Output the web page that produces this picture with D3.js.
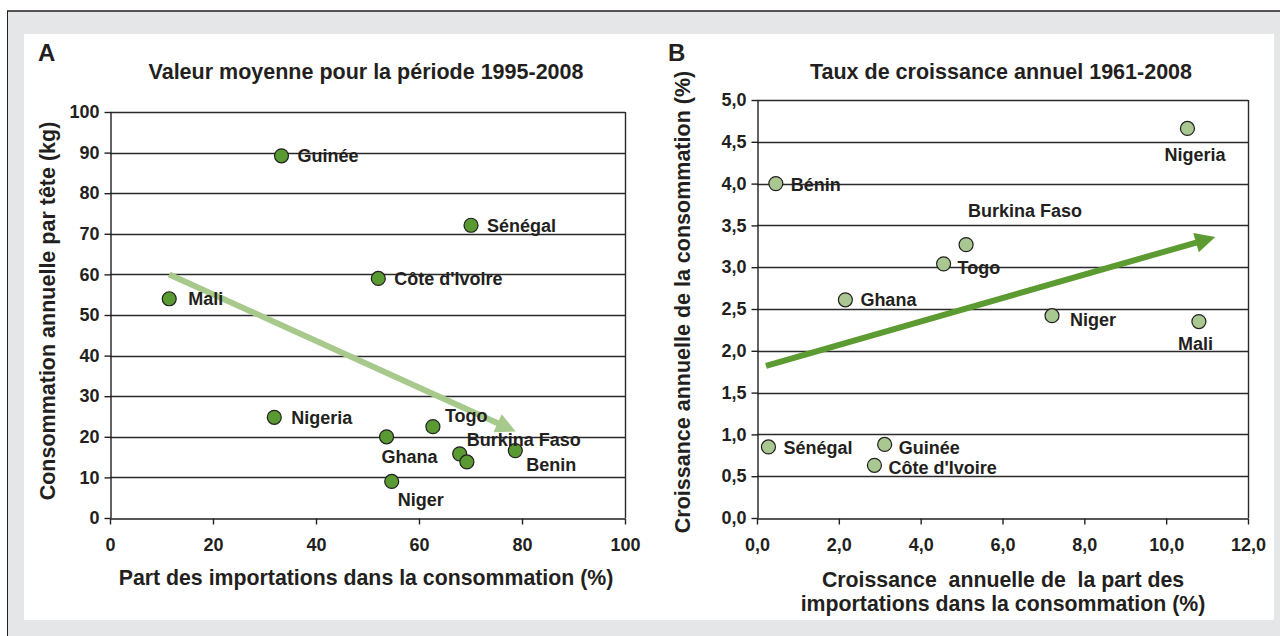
<!DOCTYPE html>
<meta charset="utf-8">
<style>
body { margin: 0; background: #fff; }
svg { display: block; font-family: "Liberation Sans", Arial, sans-serif; font-weight: bold; fill: #231f20; }
svg text { white-space: pre; }
.grid line { stroke: #2a2a2a; stroke-width: 1.4px; }
.axis path, .axis line { stroke: #231f20; stroke-width: 1.4px; }
.axis text { font-size: 18px; font-weight: bold; fill: #231f20; }
.lab { font-size: 18px; }
</style>
<body>
<svg width="1280" height="636"></svg>
<script src="https://d3js.org/d3.v7.min.js"></script>
<script>

// panel A : valeur moyenne 1995-2008
var countriesA = ["Guinée", "Sénégal", "Côte d'Ivoire", "Mali", "Nigeria", "Togo", "Ghana", "Burkina Faso", "", "Benin", "Niger"];
var importShareA = [33.3, 70.1, 52.1, 11.5, 31.9, 62.7, 53.7, 67.9, 69.3, 78.7, 54.7];
var consumptionA = [89.2, 72.1, 59.0, 54.0, 24.8, 22.5, 20.0, 15.8, 13.8, 16.6, 9.0];
var trendA = [[11.5, 60], [78.8, 21.3]];
var xTicksA = [0, 20, 40, 60, 80, 100];
var yTicksA = [0, 10, 20, 30, 40, 50, 60, 70, 80, 90, 100];

// panel B : taux de croissance 1961-2008
var countriesB = ["Nigeria", "Bénin", "Burkina Faso", "Togo", "Ghana", "Niger", "Mali", "Sénégal", "Guinée", "Côte d'Ivoire"];
var importGrowthB = [10.52, 0.46, 5.11, 4.56, 2.16, 7.21, 10.8, 0.28, 3.12, 2.87];
var consGrowthB = [4.66, 4.0, 3.27, 3.04, 2.61, 2.42, 2.35, 0.85, 0.88, 0.63];
var trendB = [[0.22, 1.82], [11.2, 3.36]];
var xTickLabelsB = ["0,0", "2,0", "4,0", "6,0", "8,0", "10,0", "12,0"];
var yTickLabelsB = ["0,0", "0,5", "1,0", "1,5", "2,0", "2,5", "3,0", "3,5", "4,0", "4,5", "5,0"];

// label placement (px from point centre)
var offA = {"Guinée": [16, 0], "Sénégal": [16, 0], "Côte d'Ivoire": [16, 0], "Mali": [19, 0], "Nigeria": [17, 0],
  "Togo": [12, -11], "Ghana": [-5, 20], "Burkina Faso": [7, -14], "Benin": [11, 14], "Niger": [6, 18], "": [0, 0]};
var offB = {"Nigeria": [-23, 26], "Bénin": [15, 1], "Burkina Faso": [2, -34], "Togo": [14, 4], "Ghana": [15, 0],
  "Niger": [18, 4], "Mali": [-21, 22], "Sénégal": [15, 1], "Guinée": [14, 3], "Côte d'Ivoire": [14, 2]};

var svg = d3.select("svg");

// frame
svg.append("rect").attr("x", 7).attr("y", 11).attr("width", 1273).attr("height", 625).attr("fill", "#e5e6e7");
svg.append("line").attr("x1", 7).attr("x2", 1280).attr("y1", 11).attr("y2", 11).attr("stroke", "#231f20").attr("stroke-width", 1.5);
svg.append("line").attr("x1", 7.5).attr("x2", 7.5).attr("y1", 11).attr("y2", 636).attr("stroke", "#231f20").attr("stroke-width", 1);
svg.append("rect").attr("x", 24).attr("y", 34).attr("width", 1250).attr("height", 586).attr("fill", "#fff");

function panel(o) {
  var g = svg.append("g");
  var x = d3.scaleLinear().domain(o.xdom).range([o.left, o.right]);
  var y = d3.scaleLinear().domain(o.ydom).range([o.bottom, o.top]);
  var py = function(d) { return Math.round(y(d)) + 0.5; };

  var grid = g.append("g").attr("class", "grid");
  grid.selectAll("line").data(o.yticks.slice(1)).enter().append("line")
    .attr("x1", o.left).attr("x2", o.right)
    .attr("y1", py).attr("y2", py);
  grid.append("line").attr("x1", o.right + 0.5).attr("x2", o.right + 0.5).attr("y1", o.top).attr("y2", o.bottom);

  g.append("g").attr("class", "axis")
    .attr("transform", "translate(0," + (o.bottom + 0.5) + ")")
    .call(d3.axisBottom(x).tickValues(o.xticks).tickSize(6).tickSizeOuter(0).tickPadding(14).tickFormat(o.xfmt));
  g.append("g").attr("class", "axis")
    .attr("transform", "translate(" + (o.left + 0.5) + ",0)")
    .call(d3.axisLeft(y).tickValues(o.yticks).tickSize(6).tickSizeOuter(0).tickPadding(5).tickFormat(o.yfmt));

  // trend arrow
  var p0 = [x(o.trend[0][0]), y(o.trend[0][1])], p1 = [x(o.trend[1][0]), y(o.trend[1][1])];
  var ang = Math.atan2(p1[1] - p0[1], p1[0] - p0[0]);
  var hl = 20, hw = 10;
  var base = [p1[0] - hl * Math.cos(ang), p1[1] - hl * Math.sin(ang)];
  g.append("line").attr("x1", p0[0]).attr("y1", p0[1]).attr("x2", base[0] + 2 * Math.cos(ang)).attr("y2", base[1] + 2 * Math.sin(ang))
    .attr("stroke", o.arrow).attr("stroke-width", 6);
  g.append("path")
    .attr("d", "M" + p1 + "L" + [base[0] + hw * Math.sin(ang), base[1] - hw * Math.cos(ang)] +
      "L" + [base[0] - hw * Math.sin(ang), base[1] + hw * Math.cos(ang)] + "Z")
    .attr("fill", o.arrow);

  var pts = o.names.map(function(n, i) { return {name: n, x: o.xs[i], y: o.ys[i]}; });
  g.selectAll("circle").data(pts).enter().append("circle")
    .attr("cx", function(d) { return x(d.x); }).attr("cy", function(d) { return y(d.y); })
    .attr("r", 7).attr("fill", o.dot).attr("stroke", "#231f20").attr("stroke-width", 1.2);
  g.selectAll("text.lab").data(pts).enter().append("text").attr("class", "lab")
    .attr("x", function(d) { return x(d.x) + o.off[d.name][0]; })
    .attr("y", function(d) { return y(d.y) + o.off[d.name][1]; })
    .attr("dy", "0.35em")
    .text(function(d) { return d.name; });
}

panel({left: 110, right: 625, top: 112, bottom: 518, xdom: [0, 100], ydom: [0, 100],
  xticks: xTicksA, yticks: yTicksA, xfmt: d3.format("d"), yfmt: d3.format("d"),
  trend: trendA, arrow: "#a8c98c", dot: "#5a9a32", names: countriesA, xs: importShareA, ys: consumptionA, off: offA});

panel({left: 757, right: 1248, top: 100, bottom: 518, xdom: [0, 12], ydom: [0, 5],
  xticks: d3.range(0, 12.01, 2), yticks: d3.range(0, 5.01, 0.5),
  xfmt: function(d, i) { return xTickLabelsB[i]; }, yfmt: function(d, i) { return yTickLabelsB[i]; },
  trend: trendB, arrow: "#5c9b31", dot: "#a9c791", names: countriesB, xs: importGrowthB, ys: consGrowthB, off: offB});

// titles
function txt(x, y, s, size, anchor, rot) {
  var t = svg.append("text").attr("font-size", size).attr("text-anchor", anchor || "middle").text(s);
  if (rot) t.attr("transform", "translate(" + x + "," + y + ") rotate(-90)");
  else t.attr("x", x).attr("y", y);
  return t;
}
txt(38, 61, "A", 24, "start");
txt(668, 61, "B", 24, "start");
txt(366, 79, "Valeur moyenne pour la période 1995-2008", 21.5);
txt(1001, 79, "Taux de croissance annuel 1961-2008", 21.5);
txt(55, 311, "Consommation annuelle par tête (kg)", 21.5, "middle", true);
txt(690, 302, "Croissance annuelle de la consommation (%)", 21.5, "middle", true);
txt(366, 585, "Part des importations dans la consommation (%)", 21.3);
txt(1003, 587, "Croissance  annuelle de  la part des", 21.3);
txt(1003, 611, "importations dans la consommation (%)", 21.3);

</script>
</body>
